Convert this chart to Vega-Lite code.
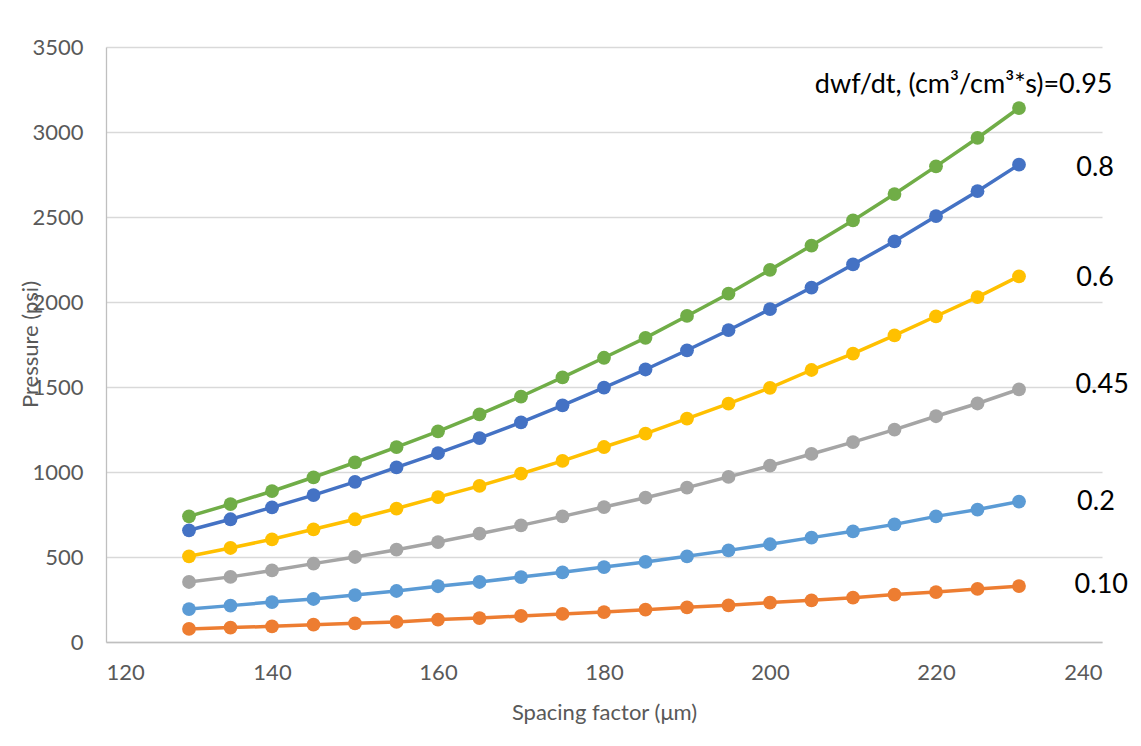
{
  "$schema": "https://vega.github.io/schema/vega-lite/v6.json",
  "width": 996,
  "height": 595,
  "autosize": {"type": "none"},
  "padding": {"left": 106, "top": 47, "right": 39, "bottom": 104},
  "background": "white",
  "config": {
    "view": {"stroke": null},
    "axis": {
      "ticks": false,
      "domainColor": "#BFBFBF",
      "domainWidth": 1.3,
      "gridColor": "#D9D9D9",
      "gridWidth": 1.3,
      "labelColor": "#595959",
      "labelFont": "Lato",
      "labelFontSize": 22,
      "titleFont": "Lato",
      "titleFontSize": 22,
      "titleColor": "#595959",
      "titleFontWeight": "normal"
    }
  },
  "datasets": {
    "curves": [
      {"x":130,"p":739,"s":"0.95"},{"x":135,"p":811,"s":"0.95"},{"x":140,"p":887,"s":"0.95"},{"x":145,"p":969,"s":"0.95"},{"x":150,"p":1056,"s":"0.95"},{"x":155,"p":1146,"s":"0.95"},{"x":160,"p":1239,"s":"0.95"},{"x":165,"p":1339,"s":"0.95"},{"x":170,"p":1444,"s":"0.95"},{"x":175,"p":1557,"s":"0.95"},{"x":180,"p":1672,"s":"0.95"},{"x":185,"p":1789,"s":"0.95"},{"x":190,"p":1918,"s":"0.95"},{"x":195,"p":2049,"s":"0.95"},{"x":200,"p":2189,"s":"0.95"},{"x":205,"p":2332,"s":"0.95"},{"x":210,"p":2480,"s":"0.95"},{"x":215,"p":2635,"s":"0.95"},{"x":220,"p":2798,"s":"0.95"},{"x":225,"p":2965,"s":"0.95"},{"x":230,"p":3141,"s":"0.95"},
      {"x":130,"p":657,"s":"0.8"},{"x":135,"p":722,"s":"0.8"},{"x":140,"p":792,"s":"0.8"},{"x":145,"p":864,"s":"0.8"},{"x":150,"p":942,"s":"0.8"},{"x":155,"p":1027,"s":"0.8"},{"x":160,"p":1111,"s":"0.8"},{"x":165,"p":1199,"s":"0.8"},{"x":170,"p":1292,"s":"0.8"},{"x":175,"p":1392,"s":"0.8"},{"x":180,"p":1496,"s":"0.8"},{"x":185,"p":1603,"s":"0.8"},{"x":190,"p":1716,"s":"0.8"},{"x":195,"p":1834,"s":"0.8"},{"x":200,"p":1958,"s":"0.8"},{"x":205,"p":2085,"s":"0.8"},{"x":210,"p":2221,"s":"0.8"},{"x":215,"p":2357,"s":"0.8"},{"x":220,"p":2505,"s":"0.8"},{"x":225,"p":2652,"s":"0.8"},{"x":230,"p":2808,"s":"0.8"},
      {"x":130,"p":504,"s":"0.6"},{"x":135,"p":553,"s":"0.6"},{"x":140,"p":604,"s":"0.6"},{"x":145,"p":663,"s":"0.6"},{"x":150,"p":722,"s":"0.6"},{"x":155,"p":785,"s":"0.6"},{"x":160,"p":852,"s":"0.6"},{"x":165,"p":918,"s":"0.6"},{"x":170,"p":990,"s":"0.6"},{"x":175,"p":1065,"s":"0.6"},{"x":180,"p":1147,"s":"0.6"},{"x":185,"p":1226,"s":"0.6"},{"x":190,"p":1314,"s":"0.6"},{"x":195,"p":1402,"s":"0.6"},{"x":200,"p":1495,"s":"0.6"},{"x":205,"p":1600,"s":"0.6"},{"x":210,"p":1696,"s":"0.6"},{"x":215,"p":1804,"s":"0.6"},{"x":220,"p":1916,"s":"0.6"},{"x":225,"p":2029,"s":"0.6"},{"x":230,"p":2151,"s":"0.6"},
      {"x":130,"p":353,"s":"0.45"},{"x":135,"p":383,"s":"0.45"},{"x":140,"p":421,"s":"0.45"},{"x":145,"p":461,"s":"0.45"},{"x":150,"p":500,"s":"0.45"},{"x":155,"p":543,"s":"0.45"},{"x":160,"p":588,"s":"0.45"},{"x":165,"p":637,"s":"0.45"},{"x":170,"p":686,"s":"0.45"},{"x":175,"p":739,"s":"0.45"},{"x":180,"p":794,"s":"0.45"},{"x":185,"p":849,"s":"0.45"},{"x":190,"p":908,"s":"0.45"},{"x":195,"p":971,"s":"0.45"},{"x":200,"p":1037,"s":"0.45"},{"x":205,"p":1106,"s":"0.45"},{"x":210,"p":1176,"s":"0.45"},{"x":215,"p":1249,"s":"0.45"},{"x":220,"p":1328,"s":"0.45"},{"x":225,"p":1403,"s":"0.45"},{"x":230,"p":1486,"s":"0.45"},
      {"x":130,"p":194,"s":"0.2"},{"x":135,"p":214,"s":"0.2"},{"x":140,"p":235,"s":"0.2"},{"x":145,"p":253,"s":"0.2"},{"x":150,"p":276,"s":"0.2"},{"x":155,"p":300,"s":"0.2"},{"x":160,"p":328,"s":"0.2"},{"x":165,"p":353,"s":"0.2"},{"x":170,"p":382,"s":"0.2"},{"x":175,"p":410,"s":"0.2"},{"x":180,"p":441,"s":"0.2"},{"x":185,"p":471,"s":"0.2"},{"x":190,"p":504,"s":"0.2"},{"x":195,"p":539,"s":"0.2"},{"x":200,"p":575,"s":"0.2"},{"x":205,"p":614,"s":"0.2"},{"x":210,"p":651,"s":"0.2"},{"x":215,"p":692,"s":"0.2"},{"x":220,"p":739,"s":"0.2"},{"x":225,"p":779,"s":"0.2"},{"x":230,"p":826,"s":"0.2"},
      {"x":130,"p":77,"s":"0.10"},{"x":135,"p":85,"s":"0.10"},{"x":140,"p":92,"s":"0.10"},{"x":145,"p":102,"s":"0.10"},{"x":150,"p":110,"s":"0.10"},{"x":155,"p":118,"s":"0.10"},{"x":160,"p":132,"s":"0.10"},{"x":165,"p":141,"s":"0.10"},{"x":170,"p":153,"s":"0.10"},{"x":175,"p":165,"s":"0.10"},{"x":180,"p":176,"s":"0.10"},{"x":185,"p":190,"s":"0.10"},{"x":190,"p":204,"s":"0.10"},{"x":195,"p":216,"s":"0.10"},{"x":200,"p":232,"s":"0.10"},{"x":205,"p":245,"s":"0.10"},{"x":210,"p":261,"s":"0.10"},{"x":215,"p":279,"s":"0.10"},{"x":220,"p":294,"s":"0.10"},{"x":225,"p":312,"s":"0.10"},{"x":230,"p":329,"s":"0.10"}
    ],
    "labels": [
      {"lx":205.4,"ly":3276,"t":"dwf/dt, (cm³/cm³*s)=0.95"},
      {"lx":236.9,"ly":2788,"t":"0.8"},
      {"lx":236.9,"ly":2141,"t":"0.6"},
      {"lx":236.8,"ly":1512,"t":"0.45"},
      {"lx":237.0,"ly":824,"t":"0.2"},
      {"lx":236.7,"ly":335,"t":"0.10"}
    ]
  },
  "layer": [
    {
      "data": {"name": "curves"},
      "mark": {"type": "line", "strokeWidth": 3.5, "point": {"filled": true, "size": 190, "opacity": 1}},
      "encoding": {
        "x": {
          "field": "x", "type": "quantitative",
          "scale": {"domain": [120, 240], "nice": false, "zero": false},
          "axis": {"values": [120,140,160,180,200,220,240], "format": "d", "grid": false, "labelPadding": 20, "title": "Spacing factor (μm)", "titleX": 498, "titleY": 70, "titleBaseline": "middle"}
        },
        "y": {
          "field": "p", "type": "quantitative",
          "scale": {"domain": [0, 3500], "nice": false},
          "axis": {"values": [0,500,1000,1500,2000,2500,3000,3500], "format": "d", "grid": true, "labelPadding": 23, "title": "Pressure (psi)", "titleX": -76, "titleY": 297, "titleBaseline": "middle"}
        },
        "color": {
          "field": "s", "type": "nominal",
          "scale": {"domain": ["0.95","0.8","0.6","0.45","0.2","0.10"], "range": ["#70AD47","#4472C4","#FFC000","#A5A5A5","#5B9BD5","#ED7D31"]},
          "legend": null
        },
        "order": {"field": "x", "type": "quantitative"}
      }
    },
    {
      "data": {"name": "labels"},
      "mark": {"type": "text", "align": "left", "baseline": "middle", "font": "Lato", "fontSize": 27, "color": "black"},
      "encoding": {
        "x": {"field": "lx", "type": "quantitative"},
        "y": {"field": "ly", "type": "quantitative"},
        "text": {"field": "t"}
      }
    }
  ]
}
